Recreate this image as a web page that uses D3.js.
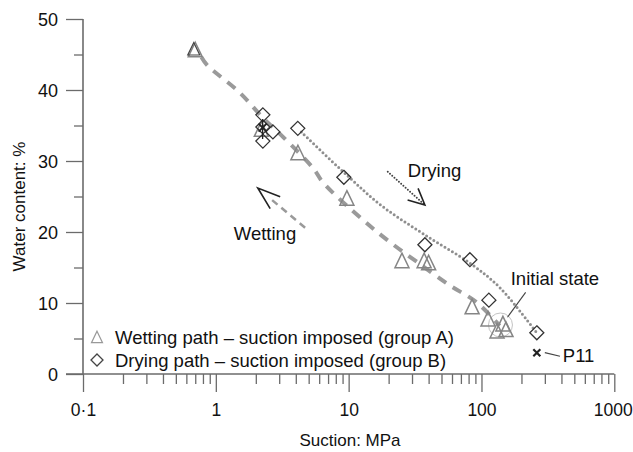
<!DOCTYPE html>
<html>
<head>
<meta charset="utf-8">
<script src="https://cdn.jsdelivr.net/npm/d3@7"></script>
<style>
  html, body { margin: 0; padding: 0; background: #fff; }
  svg { display: block; font-family: "Liberation Sans", Arial, Helvetica, sans-serif; }
</style>
</head>
<body>
<svg id="chart" width="633" height="452"></svg>
<script>
// Suction (MPa) vs water content (%) measurements
const wettingSuction = [0.7, 2.2, 4.15, 9.7, 25.2, 37, 40, 85, 112, 131, 145, 153];
const wettingWater   = [45.5, 34.3, 31.0, 24.6, 15.8, 15.8, 15.5, 9.3, 7.6, 5.9, 6.9, 6.1];

const dryingSuction = [2.26, 2.26, 2.69, 2.26, 4.14, 9.2, 37.5, 81.8, 113.7, 261];
const dryingWater   = [36.5, 34.8, 34.1, 32.8, 34.6, 27.7, 18.2, 16.1, 10.4, 5.8];

// Hand-drawn trend lines
const wettingTrendSuction = [0.78, 0.86, 1.5, 2.26, 3.2, 5.4, 6.4, 12.8, 20.4, 32.6, 57.6, 92, 137];
const wettingTrendWater   = [44.6, 43.5, 39.7, 36.1, 33.4, 29.0, 27.0, 21.7, 18.6, 15.8, 12.5, 10.1, 6.8];
const dryingTrendSuction  = [4.4, 9.7, 18, 37.5, 82, 137, 258];
const dryingTrendWater    = [34.1, 28.0, 23.6, 19.6, 15.6, 12.2, 5.9];

// Single specimen P11 and the dark cross in the cluster near 2 MPa
const p11Suction = 261, p11Water = 3.0;
const crossSuction = 2.25, crossWater = 34.7, crossLow = 33.1, crossHigh = 35.9;

// Initial state (circled)
const initialSuction = 139, initialWater = 6.9;

const xTickValues = [0.1, 1, 10, 100, 1000];
const xTickLabels = ["0·1", "1", "10", "100", "1000"];
const yTickValues = [0, 10, 20, 30, 40, 50];

const svg = d3.select("#chart");
const x = d3.scaleLog().domain([0.1, 1000]).range([83, 614.3]);
const y = d3.scaleLinear().domain([0, 50]).range([374, 19]);

const axisColor = "#6b6b6b";
const textColor = "#111";

// ---- Axes ----
const gx = svg.append("g").attr("transform", `translate(0,${y(0)})`);
const minorX = [];
for (let e = -1; e < 3; e++) for (let m = 2; m <= 9; m++) minorX.push(m * Math.pow(10, e));
gx.call(d3.axisBottom(x).tickValues(minorX).tickSize(10).tickFormat(""));
gx.call(g => g.append("g").call(d3.axisBottom(x).tickValues(xTickValues).tickSize(18).tickFormat((d, i) => xTickLabels[i])));
gx.selectAll("path.domain").remove();
gx.selectAll("line").attr("stroke", axisColor).attr("stroke-width", 1.3);
gx.selectAll("text").attr("fill", textColor).attr("font-size", 17.5).attr("dy", 0).attr("y", 42);
// keep the last label inside the frame
gx.selectAll(".tick text").filter(d => d === 1000).attr("x", -1.5);
gx.append("line").attr("x1", 66).attr("x2", x(1000)).attr("y1", 0).attr("y2", 0)
  .attr("stroke", axisColor).attr("stroke-width", 1.6);

const gy = svg.append("g").attr("transform", `translate(${x(0.1)},0)`);
gy.call(d3.axisLeft(y).tickValues([5, 15, 25, 35, 45]).tickSize(9).tickFormat(""));
gy.call(g => g.append("g").call(d3.axisLeft(y).tickValues(yTickValues).tickSize(17).tickFormat(d3.format("d"))));
gy.selectAll("path.domain").remove();
gy.selectAll("line").attr("stroke", axisColor).attr("stroke-width", 1.3);
gy.selectAll("text").attr("fill", textColor).attr("font-size", 18).attr("x", -25).attr("dy", "0.35em");
gy.append("line").attr("x1", 0).attr("x2", 0).attr("y1", y(50)).attr("y2", y(0))
  .attr("stroke", axisColor).attr("stroke-width", 1.6);

svg.append("text").attr("x", 350).attr("y", 446).attr("text-anchor", "middle")
  .attr("font-size", 17).attr("fill", textColor).text("Suction: MPa");
svg.append("text").attr("transform", `translate(25,${(y(0) + y(50)) / 2 + 10}) rotate(-90)`)
  .attr("text-anchor", "middle").attr("font-size", 17).attr("fill", textColor).text("Water content: %");

// ---- Trend lines ----
const line = d3.line().curve(d3.curveCatmullRom.alpha(0.5)).x(d => x(d[0])).y(d => y(d[1]));
svg.append("path").datum(wettingTrendSuction.map((s, i) => [s, wettingTrendWater[i]]))
  .attr("d", line).attr("fill", "none").attr("stroke", "#9a9a9a")
  .attr("stroke-width", 4).attr("stroke-dasharray", "10,8");
svg.append("path").datum(dryingTrendSuction.map((s, i) => [s, dryingTrendWater[i]]))
  .attr("d", line).attr("fill", "none").attr("stroke", "#8f8f8f")
  .attr("stroke-width", 3).attr("stroke-linecap", "round").attr("stroke-dasharray", "0,4.3");

// ---- Markers ----
const triPath = (cx, cy, s) => `M${cx},${cy - s * 0.62}L${cx + s / 2},${cy + s * 0.42}L${cx - s / 2},${cy + s * 0.42}Z`;
const diaPath = (cx, cy, s) => `M${cx},${cy - s / 2}L${cx + s / 2},${cy}L${cx},${cy + s / 2}L${cx - s / 2},${cy}Z`;

svg.append("circle").attr("cx", x(initialSuction)).attr("cy", y(initialWater)).attr("r", 12)
  .attr("fill", "none").attr("stroke", "#c4c4c4").attr("stroke-width", 1);

svg.append("g").selectAll("path").data(wettingSuction.map((s, i) => [s, wettingWater[i]]))
  .join("path").attr("d", d => triPath(x(d[0]), y(d[1]), 14))
  .attr("fill", "none").attr("stroke", "#858585").attr("stroke-width", 1.5);
// darker outline on the first wetting point
svg.append("path").attr("d", triPath(x(wettingSuction[0]) - 1.5, y(wettingWater[0]) - 1, 12))
  .attr("fill", "none").attr("stroke", "#444").attr("stroke-width", 1.2);

svg.append("g").selectAll("path").data(dryingSuction.map((s, i) => [s, dryingWater[i]]))
  .join("path").attr("d", d => diaPath(x(d[0]), y(d[1]), 14))
  .attr("fill", "none").attr("stroke", "#333").attr("stroke-width", 1.3);

// cross marker with its range
const cx0 = x(crossSuction), cy0 = y(crossWater);
svg.append("line").attr("x1", cx0).attr("x2", cx0).attr("y1", y(crossHigh)).attr("y2", y(crossLow))
  .attr("stroke", "#222").attr("stroke-width", 1.3);
svg.append("path").attr("d", `M${cx0 - 4},${cy0 - 4}L${cx0 + 4},${cy0 + 4}M${cx0 + 4},${cy0 - 4}L${cx0 - 4},${cy0 + 4}`)
  .attr("stroke", "#222").attr("stroke-width", 2);

// P11
const px = x(p11Suction), py = y(p11Water);
svg.append("path").attr("d", `M${px - 3.5},${py - 3.5}L${px + 3.5},${py + 3.5}M${px + 3.5},${py - 3.5}L${px - 3.5},${py + 3.5}`)
  .attr("stroke", "#222").attr("stroke-width", 2.2);
svg.append("line").attr("x1", px + 8).attr("y1", py).attr("x2", x(390)).attr("y2", y(2.5))
  .attr("stroke", "#444").attr("stroke-width", 1.2);
svg.append("text").attr("x", x(410)).attr("y", y(1.7)).attr("font-size", 18.5).attr("fill", textColor).text("P11");

// Initial state annotation
svg.append("line").attr("x1", x(157)).attr("y1", y(8.0)).attr("x2", x(215)).attr("y2", y(11.5))
  .attr("stroke", "#444").attr("stroke-width", 1.1);
svg.append("text").attr("x", x(166)).attr("y", y(12.5)).attr("font-size", 18.5).attr("fill", textColor).text("Initial state");

// ---- Direction arrows ----
function arrowHead(tipS, tipW, fromS, fromW, len, half) {
  const tx = x(tipS), ty = y(tipW);
  const a = Math.atan2(y(fromW) - ty, x(fromS) - tx);
  const p1 = [tx + len * Math.cos(a + half), ty + len * Math.sin(a + half)];
  const p2 = [tx + len * Math.cos(a - half), ty + len * Math.sin(a - half)];
  svg.append("path").attr("d", `M${p1[0]},${p1[1]}L${tx},${ty}L${p2[0]},${p2[1]}`)
    .attr("fill", "none").attr("stroke", "#222").attr("stroke-width", 1.6);
}
// Wetting: dashed grey shaft pointing to lower suction
svg.append("line").attr("x1", x(4.7)).attr("y1", y(20.6)).attr("x2", x(2.5)).attr("y2", y(24.9))
  .attr("stroke", "#9a9a9a").attr("stroke-width", 2.5).attr("stroke-dasharray", "7,5");
arrowHead(2.07, 26.2, 4.7, 20.6, 24, 0.33);
svg.append("text").attr("x", x(1.366)).attr("y", y(18.9)).attr("font-size", 18.5).attr("fill", textColor).text("Wetting");

// Drying: dotted dark shaft pointing to higher suction
svg.append("line").attr("x1", x(19.7)).attr("y1", y(28.5)).attr("x2", x(37)).attr("y2", y(23.9))
  .attr("stroke", "#444").attr("stroke-width", 2).attr("stroke-linecap", "round").attr("stroke-dasharray", "0,3");
arrowHead(37.5, 23.8, 19.7, 28.5, 18, 0.45);
svg.append("text").attr("x", x(27.9)).attr("y", y(27.7)).attr("font-size", 18.5).attr("fill", textColor).text("Drying");

// ---- Legend ----
const leg = svg.append("g");
leg.append("path").attr("d", triPath(97, 338, 11)).attr("fill", "none").attr("stroke", "#999").attr("stroke-width", 1.2);
leg.append("text").attr("x", 115).attr("y", 344).attr("font-size", 18.5).attr("fill", textColor)
  .text("Wetting path – suction imposed (group A)");
leg.append("path").attr("d", diaPath(97, 360, 12)).attr("fill", "none").attr("stroke", "#444").attr("stroke-width", 1.3);
leg.append("text").attr("x", 115).attr("y", 367).attr("font-size", 18.5).attr("fill", textColor)
  .text("Drying path – suction imposed (group B)");
</script>
</body>
</html>
